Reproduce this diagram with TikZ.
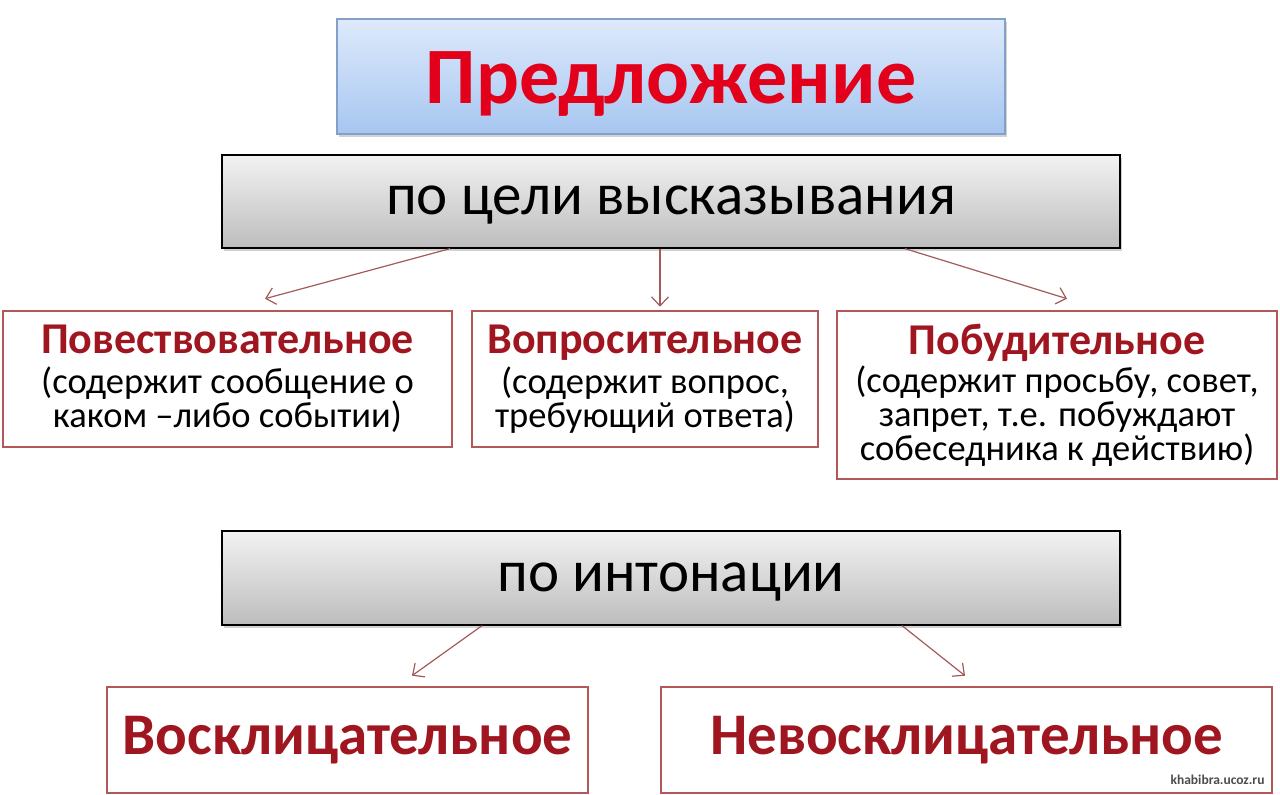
\documentclass[tikz,border=0pt]{standalone}
\usepackage{fontspec}
\setmainfont{Carlito}
\usepackage{tikz}
\usetikzlibrary{positioning,arrows.meta,shadows,shapes}

\definecolor{titlered}{RGB}{226,0,26}
\definecolor{darkred}{RGB}{160,22,32}
\definecolor{boxred}{RGB}{178,88,88}
\definecolor{arrred}{RGB}{165,90,90}
\definecolor{bluetop}{RGB}{222,234,252}
\definecolor{bluebot}{RGB}{166,198,240}
\definecolor{bluedraw}{RGB}{130,160,200}

\newcommand{\kindname}[1]{\textcolor{darkred}{\fontsize{44}{44}\selectfont\bfseries #1}}
\newcommand{\bigkind}[1]{\textcolor{darkred}{\fontsize{59}{64}\selectfont\bfseries #1}}

\tikzset{
  headbox/.style={draw=bluedraw, line width=1.2pt, top color=bluetop, bottom color=bluebot,
    drop shadow={shadow xshift=2pt, shadow yshift=-3pt, opacity=0.35}},
  graybox/.style={draw=black, line width=1.3pt, top color=white!95!black, bottom color=white!74!black,
    drop shadow={shadow xshift=2pt, shadow yshift=-3pt, opacity=0.35}, font=\fontsize{59}{64}\selectfont,
    text height=33pt, text depth=7pt},
  kindbox/.style={draw=boxred, line width=2.6pt, fill=white, align=center,
    font=\fontsize{36.5}{34}\selectfont},
  arr/.style={draw=arrred, line width=1.2pt, -{Straight Barb[length=9pt,width=17pt]}}
}

\begin{document}
\begin{tikzpicture}[x=1pt,y=-1pt]
\useasboundingbox[fill=white] (0,0) rectangle (1280,795);

\node[headbox, minimum width=668pt, minimum height=115pt] (sent) at (671,76.5)
  {\raisebox{-27pt}[0pt][0pt]{\fontsize{80}{90}\selectfont\bfseries\color{titlered}Предложение}};
\node[graybox, minimum width=898pt, minimum height=93pt] (goal) at (671,201.5) {по цели высказывания};

\node[kindbox, minimum width=449pt, minimum height=136pt] (narr) at (227.5,379)
  {\kindname{Повествовательное}\\[6pt] (содержит сообщение о\\ каком –либо событии)};
\node[kindbox, minimum width=346pt, minimum height=136pt] (ques) at (645,379)
  {\kindname{Вопросительное}\\[6pt] (содержит вопрос,\\ требующий ответа)};
\node[kindbox, minimum width=440pt, minimum height=168pt] (incen) at (1057,395)
  {\kindname{Побудительное}\\[4pt] (содержит просьбу, совет,\\ запрет, т.е. побуждают\\ собеседника к действию)};

\node[graybox, minimum width=898pt, minimum height=94pt] (inton) at (671,578) {по интонации};

\node[kindbox, minimum width=481pt, minimum height=106pt] (excl) at (347.5,740) {\bigkind{Восклицательное}};
\node[kindbox, minimum width=611pt, minimum height=106pt] (nonex) at (966.5,740) {\bigkind{Невосклицательное}};

\node[anchor=east, font=\fontsize{13.5}{14}\selectfont\bfseries, text=black!70] (mark) at (1268,780) {khabibra.ucoz.ru};

\draw[arr] ([xshift=-221pt]goal.south) -- ([xshift=37.5pt,yshift=11pt]narr.north);
\draw[arr] ([xshift=-11pt]goal.south) -- ([xshift=15pt,yshift=3pt]ques.north);
\draw[arr] ([xshift=234pt]goal.south) -- ([xshift=10pt,yshift=11pt]incen.north);
\draw[arr] ([xshift=-189pt]inton.south) -- ([xshift=64.5pt,yshift=10pt]excl.north);
\draw[arr] ([xshift=231pt]inton.south) -- ([xshift=-1.5pt,yshift=10pt]nonex.north);
\end{tikzpicture}
\end{document}
